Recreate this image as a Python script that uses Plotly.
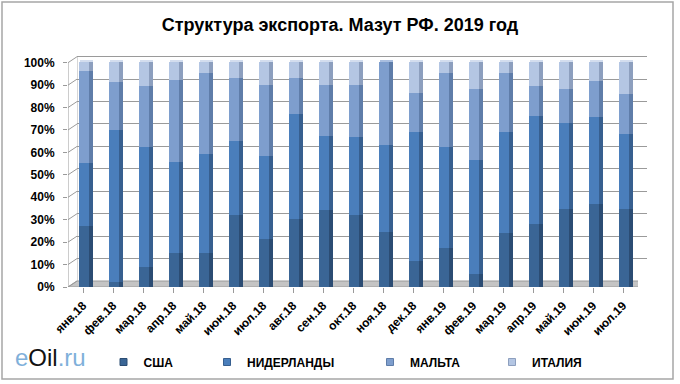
import plotly.graph_objects as go
import numpy as np

categories = ["янв.18", "фев.18", "мар.18", "апр.18", "май.18", "июн.18", "июл.18",
              "авг.18", "сен.18", "окт.18", "ноя.18", "дек.18", "янв.19", "фев.19",
              "мар.19", "апр.19", "май.19", "июн.19", "июл.19"]
usa = [27, 2, 8.5, 15, 15, 32, 21, 30, 34, 32, 24.5, 11.5, 17, 5.5, 24, 28, 34.5, 37, 34.5]
netherlands = [28, 68, 53.5, 40.5, 44, 33, 37, 47, 33, 34.5, 38.5, 57.5, 45, 51, 45, 48, 38.5, 38.5, 33.5]
malta = [41, 21, 27.5, 36.5, 36, 28, 32, 16, 23, 23.5, 37, 17.5, 33, 31.5, 26, 13.5, 15, 16, 18]
italy = [4, 9, 10.5, 8, 5, 7, 10, 7, 10, 10, 0, 13.5, 5, 12, 5, 10.5, 12, 8.5, 14]
series_names = ["США", "НИДЕРЛАНДЫ", "МАЛЬТА", "ИТАЛИЯ"]
y_tick_vals = [0, 0.1, 0.2, 0.3, 0.4, 0.5, 0.6, 0.7, 0.8, 0.9, 1.0]
y_tick_text = ["0%", "10%", "20%", "30%", "40%", "50%", "60%", "70%", "80%", "90%", "100%"]
title_text = "Структура экспорта. Мазут РФ. 2019 год"

W, H = 680, 384
FONT = "Liberation Sans, Arial, sans-serif"
front_cols = ["#3A6595", "#4A7EBB", "#7E9ECD", "#B4C6E3"]
side_cols = ["#2B4C73", "#375F8F", "#5F7DA9", "#8D9FBE"]
cap_cols = ["#6F8FB8", "#7FA3D0", "#A9BEDF", "#D3DDEE"]

data = np.array([usa, netherlands, malta, italy], dtype=float)
shares = data / data.sum(axis=0)
bases = np.vstack([np.zeros(len(categories)), np.cumsum(shares, axis=0)[:-1]])
idx = list(range(len(categories)))

# pixel geometry
fx0, fx1 = 68, 638
fy0 = 287
unit = 224.3
ymax = 1.05
dx, dy = 9, 6

fig = go.Figure()

# back wall gridlines (subplot xy)
fig.add_trace(go.Scatter(x=[None], y=[None], xaxis="x", yaxis="y", showlegend=False, hoverinfo="skip"))

for k, name in enumerate(series_names):
    fig.add_trace(go.Bar(x=idx, y=shares[k], base=bases[k], xaxis="x2", yaxis="y2",
                         width=0.333, offset=-0.133, marker=dict(color=front_cols[k], line=dict(width=0)),
                         showlegend=False, name=name))
    fig.add_trace(go.Bar(x=idx, y=shares[k], base=bases[k], xaxis="x2", yaxis="y2",
                         width=0.133, offset=0.2, marker=dict(color=side_cols[k], line=dict(width=0)),
                         showlegend=False, hoverinfo="skip"))

# caps on top of stacks
top_idx = [3 if italy[i] > 0 else 2 for i in idx]
fig.add_trace(go.Bar(x=idx, y=[0.012] * len(idx), base=shares.sum(axis=0), xaxis="x2", yaxis="y2",
                     width=0.43, offset=-0.1, marker=dict(color=[cap_cols[t] for t in top_idx], line=dict(width=0)),
                     showlegend=False, hoverinfo="skip"))

# legend entries
legend_x = [125.5, 229, 392, 514]
for k, name in enumerate(series_names):
    lid = "legend" if k == 0 else f"legend{k+1}"
    fig.add_trace(go.Scatter(x=[None], y=[None], xaxis="x", yaxis="y", mode="markers", name="<b>" + name + "</b>",
                             marker=dict(symbol="square", size=7, color=front_cols[k],
                                         line=dict(color=side_cols[k], width=1)),
                             legend=lid, showlegend=True))

shapes = []
# floor
shapes.append(dict(type="path", xref="x2", yref="y2", layer="below",
                   path=f"M -0.5,0 L 18.5,0 L {18.5 + dx/30},{dy/unit} L {-0.5 + dx/30},{dy/unit} Z",
                   fillcolor="#C4C4C4", line=dict(color="#9A9A9A", width=1)))
# side wall diagonals
for v in y_tick_vals:
    shapes.append(dict(type="line", xref="x2", yref="y2", x0=-0.5, y0=v, x1=-0.5 + dx/30, y1=v + dy/unit,
                       line=dict(color="#9A9A9A", width=1), layer="below"))
shapes.append(dict(type="line", xref="x2", yref="y2", x0=-0.5, y0=0, x1=-0.5, y1=1.0,
                   line=dict(color="#9A9A9A", width=1)))
shapes.append(dict(type="line", xref="x", yref="y", x0=-0.5, y0=0, x1=-0.5, y1=1.0,
                   line=dict(color="#B0B0B0", width=1), layer="below"))
# outer border
shapes.append(dict(type="rect", xref="paper", yref="paper", x0=2/W, y0=1 - 379/H, x1=673/W, y1=1 - 2/H,
                   line=dict(color="#A6A6A6", width=1.5), fillcolor="rgba(0,0,0,0)"))

layout = dict(
    width=W, height=H, margin=dict(l=0, r=0, t=0, b=0, autoexpand=False),
    paper_bgcolor="white", plot_bgcolor="rgba(0,0,0,0)",
    barmode="overlay", bargap=0,
    font=dict(family=FONT, size=12, color="black"),
    title=dict(text="<b>" + title_text + "</b>", x=0.5, xanchor="center", y=1 - 25/H, yanchor="middle",
               xref="paper", yref="paper", automargin=False,
               font=dict(family=FONT, size=18, color="black")),
    xaxis=dict(domain=[(fx0 + dx)/W, (fx1 + dx)/W], range=[-0.5, 18.5], visible=False, fixedrange=True,
               automargin=False),
    yaxis=dict(domain=[1 - (fy0 - dy)/H, 1 - (fy0 - dy - ymax*unit)/H], range=[0, ymax], automargin=False,
               showgrid=True, gridcolor="#9A9A9A", gridwidth=1, tickvals=y_tick_vals,
               showticklabels=False, zeroline=False, showline=False, ticks=""),
    xaxis2=dict(domain=[fx0/W, fx1/W], range=[-0.5, 18.5], anchor="y2", tickmode="array", automargin=False,
                tickvals=idx, ticktext=["<b>" + c + "</b>" for c in categories], tickangle=-45,
                ticks="outside", ticklen=5,
                tickcolor="#9A9A9A", showgrid=False, zeroline=False, showline=False,
                tickfont=dict(family=FONT, size=12, color="black"), ticklabelstandoff=1),
    yaxis2=dict(domain=[1 - fy0/H, 1 - (fy0 - ymax*unit)/H], range=[0, ymax], anchor="x2", automargin=False,
                tickvals=y_tick_vals, ticktext=["<b>" + t + "</b>" for t in y_tick_text],
                ticks="outside", ticklen=4, tickcolor="#9A9A9A", showgrid=False, zeroline=False,
                showline=False, tickfont=dict(family=FONT, size=12, color="black"), ticklabelstandoff=6),
    shapes=shapes,
    showlegend=True,
)
for k in range(4):
    lid = "legend" if k == 0 else f"legend{k+1}"
    layout[lid] = dict(x=(legend_x[k] - 22)/W, xanchor="left", y=1 - 362/H, yanchor="middle",
                       orientation="h", bgcolor="rgba(0,0,0,0)", borderwidth=0,
                       font=dict(family=FONT, size=12, color="black"), itemwidth=30)
fig.update_layout(**layout)

fig.add_annotation(x=13/W, y=1 - 357/H, xref="paper", yref="paper", xanchor="left", yanchor="middle",
                   showarrow=False,
                   text="<span style='color:#7FB0DA'>e</span><span style='color:#111111'>Oil</span><span style='color:#7FB0DA'>.ru</span>",
                   font=dict(family=FONT, size=24))

fig.write_html("out.html", config={"displayModeBar": False},
               post_script="document.body.style.margin='0';")
